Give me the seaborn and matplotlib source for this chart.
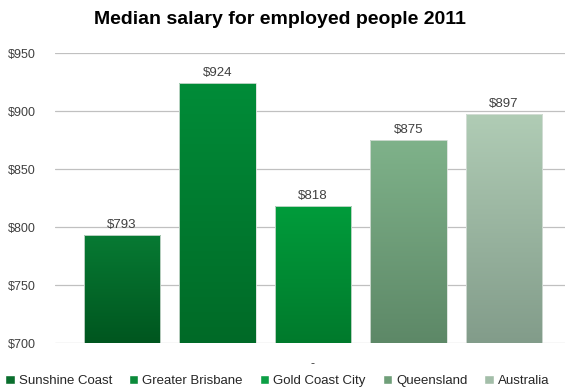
import numpy as np
import pandas as pd
import matplotlib
matplotlib.use("Agg")
import matplotlib.pyplot as plt
import seaborn as sns
from matplotlib.colors import LinearSegmentedColormap
from matplotlib.patches import Patch

# Data
regions = ["Sunshine Coast", "Greater Brisbane", "Gold Coast City", "Queensland", "Australia"]
median_salary = [793, 924, 818, 875, 897]
category = ["-"] * len(regions)
yticks = [700, 750, 800, 850, 900, 950]

# Gradient colours per series (top -> bottom) and legend swatches
top_colors = ["#077a33", "#008c38", "#009c3b", "#7fb28a", "#b0ccb5"]
bottom_colors = ["#00561f", "#006a27", "#007a2c", "#5d8867", "#829c8a"]
legend_colors = ["#0a6e2d", "#0b8a3a", "#0c9f45", "#6f9f79", "#a3bea9"]

df = pd.DataFrame({"category": category, "region": regions, "salary": median_salary})

sns.set_theme(style="white")
plt.rcParams["font.family"] = ["Liberation Sans", "DejaVu Sans"]

fig = plt.figure(figsize=(5.66, 3.92), dpi=100)
ax = fig.add_axes([55 / 566, 49 / 392, 510 / 566, 290 / 392])

sns.barplot(data=df, x="category", y="salary", hue="region", hue_order=regions,
            palette=legend_colors, width=0.8, gap=0.2, errorbar=None,
            legend=False, ax=ax, edgecolor="#d8e0da", linewidth=0.6)

ymin, ymax = yticks[0], yticks[-1]
ax.set_ylim(ymin, ymax)
ax.set_xlim(-0.432, 0.422)

# Vertical gradient fill clipped to each bar
for i, container in enumerate(ax.containers):
    cmap = LinearSegmentedColormap.from_list(f"g{i}", [bottom_colors[i], top_colors[i]])
    grad = np.linspace(0, 1, 256).reshape(-1, 1)
    for patch in container.patches:
        x0 = patch.get_x()
        w = patch.get_width()
        h = patch.get_height()
        im = ax.imshow(grad, cmap=cmap, extent=[x0, x0 + w, ymin, h], origin="lower",
                       aspect="auto", zorder=patch.get_zorder(), interpolation="bilinear")
        im.set_clip_path(patch)
        patch.set_facecolor("none")
        patch.set_zorder(patch.get_zorder() + 0.1)
    ax.bar_label(container, labels=[f"${v:.0f}" for v in container.datavalues],
                 padding=3, fontsize=9.5, color="#404040")

ax.set_xlim(-0.432, 0.422)
ax.set_ylim(ymin, ymax)

ax.set_yticks(yticks)
ax.set_yticklabels([f"${t}" for t in yticks])
ax.yaxis.grid(True, color="#c0c0c0", linewidth=0.9)
ax.set_axisbelow(True)
for s in ax.spines.values():
    s.set_visible(False)
ax.tick_params(axis="y", length=0, pad=14, labelsize=9, labelcolor="#404040")
ax.tick_params(axis="x", length=0, pad=11, labelsize=9, labelcolor="#404040")
ax.set_xlabel("")
ax.set_ylabel("")

fig.text(280 / 566, 1 - 20 / 392, "Median salary for employed people 2011",
         ha="center", va="center", fontsize=14, fontweight="bold", color="#000000")

handles = [Patch(facecolor=c, label=r) for c, r in zip(legend_colors, regions)]
fig.legend(handles=handles, loc="center", bbox_to_anchor=(0.49, 1 - 381 / 392), ncol=5,
           frameon=False, handlelength=0.7, handleheight=0.7, handletextpad=0.3,
           columnspacing=1.3, fontsize=9.5, labelcolor="#262626")

fig.savefig("out.png", dpi=100)
